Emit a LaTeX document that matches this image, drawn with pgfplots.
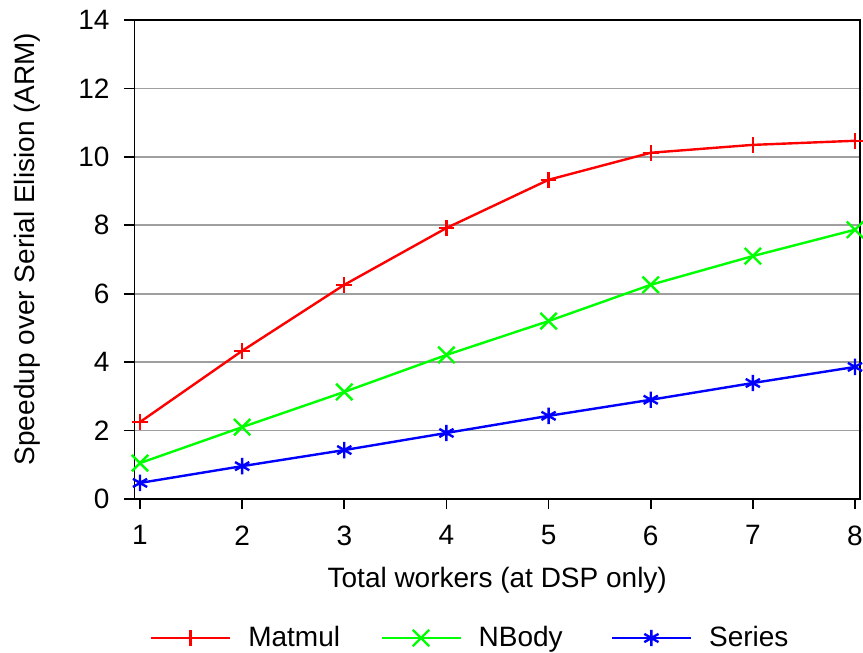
\documentclass[border=0pt]{standalone}
\usepackage{pgfplots}
\pgfplotsset{compat=1.18}
\usepackage{fontspec}
\setmainfont{Liberation Sans}
\newcommand\lgd[1]{\makebox[46pt][l]{#1}}
\begin{document}
\begin{tikzpicture}
\begin{axis}[
  scale only axis,
  width=362.75pt, height=239.5pt,
  xmin=0.946, xmax=8.049, ymin=0, ymax=14,
  xtick={1,...,8}, ytick={0,2,...,14},
  tick align=outside, tick pos=left,
  major tick length=5pt,
  ymajorgrids, grid style={gray!75, line width=0.8pt},
  axis line style={line width=0.9pt},
  tick style={black, line width=0.8pt},
  /pgf/number format/assume math mode=true,
  tick label style={font=\fontsize{14}{16}\selectfont},
  yticklabel style={xshift=-4pt},
  xticklabel style={yshift=-4.8pt},
  label style={font=\fontsize{14}{16}\selectfont},
  xlabel={Total workers (at DSP only)},
  ylabel={Speedup over Serial Elision (ARM)},
  xlabel style={at={(axis description cs:0.5,-0.1691)}, anchor=center},
  ylabel style={at={(axis description cs:-0.1475,0.522)}, anchor=center},
  legend style={at={(axis description cs:0.4728,-0.2902)}, anchor=center, draw=none,
    font=\fontsize{14}{16}\selectfont, column sep=6.5pt,
    /tikz/every even column/.append style={column sep=18pt}},
  legend columns=3,
  legend image code/.code={\draw[mark repeat=2,mark phase=2] plot coordinates {(0pt,0pt)(19.75pt,0pt)(39.5pt,0pt)};},
  every axis plot/.append style={line width=1.2pt},
]
\addplot[red, mark=+, mark size=3.9pt] coordinates {(1,2.25)(2,4.33)(3,6.26)(4,7.92)(5,9.33)(6,10.12)(7,10.35)(8,10.47)};
\addlegendentry{\lgd{Matmul}}
\addplot[green, mark=x, mark size=5.8pt] coordinates {(1,1.05)(2,2.1)(3,3.13)(4,4.21)(5,5.2)(6,6.26)(7,7.1)(8,7.87)};
\addlegendentry{\lgd{NBody}}
\addplot[blue, mark=asterisk, mark size=4.1pt] coordinates {(1,0.47)(2,0.96)(3,1.43)(4,1.93)(5,2.43)(6,2.9)(7,3.39)(8,3.86)};
\addlegendentry{\lgd{Series}}
\end{axis}
\pgfresetboundingbox
\useasboundingbox ([shift={(-67.25pt,-77pt)}]current axis.south west) rectangle ([shift={(1.5pt,10pt)}]current axis.north east);
\end{tikzpicture}
\end{document}
